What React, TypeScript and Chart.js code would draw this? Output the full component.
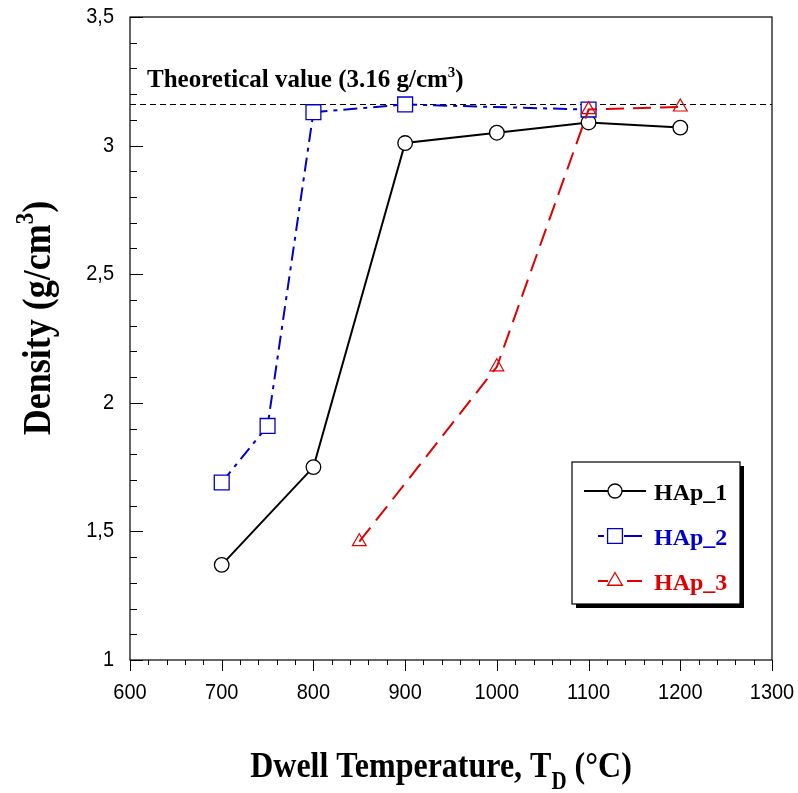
import React, { useEffect, useRef } from "react";
import { Chart, registerables } from "chart.js";
Chart.register(...registerables);

const hap1X = [700, 800, 900, 1000, 1100, 1200];
const hap1Y = [1.37, 1.75, 3.01, 3.05, 3.09, 3.07];
const hap2X = [700, 750, 800, 900, 1100];
const hap2Y = [1.69, 1.91, 3.13, 3.16, 3.14];
const hap3X = [850, 1000, 1100, 1200];
const hap3Y = [1.46, 2.14, 3.14, 3.15];
const theoreticalValue = 3.16;
const xRange = [600, 1300];
const yRange = [1, 3.5];
const xTicks = [600, 700, 800, 900, 1000, 1100, 1200, 1300];
const xTickLabels = ["600", "700", "800", "900", "1000", "1100", "1200", "1300"];
const yTicks = [1, 1.5, 2, 2.5, 3, 3.5];
const yTickLabels = ["1", "1,5", "2", "2,5", "3", "3,5"];
const seriesLabels = ["HAp_1", "HAp_2", "HAp_3"];

const BLUE = "#0000CC";
const RED = "#E00000";
const SERIF = '"Liberation Serif", "Times New Roman", serif';
const SANS = '"Liberation Sans", Arial, sans-serif';

type Seg = { t: string; dy?: number; size?: number };

function drawSegs(ctx: CanvasRenderingContext2D, segs: Seg[], x: number, y: number, base: number, color: string, align: "left" | "center" = "left", sy = 1) {
  let total = 0;
  for (const s of segs) {
    ctx.font = `bold ${s.size ?? base}px ${SERIF}`;
    total += ctx.measureText(s.t).width;
  }
  let cx = align === "center" ? x - total / 2 : x;
  ctx.save();
  ctx.translate(0, y);
  ctx.scale(1, sy);
  ctx.fillStyle = color;
  ctx.textAlign = "left";
  ctx.textBaseline = "alphabetic";
  for (const s of segs) {
    ctx.font = `bold ${s.size ?? base}px ${SERIF}`;
    ctx.fillText(s.t, cx, (s.dy ?? 0) / sy);
    cx += ctx.measureText(s.t).width;
  }
  ctx.restore();
}

function marker(ctx: CanvasRenderingContext2D, style: string, r: number, x: number, y: number, color: string) {
  ctx.save();
  ctx.fillStyle = "#fff";
  ctx.strokeStyle = color;
  ctx.lineWidth = 1.3;
  ctx.setLineDash([]);
  ctx.beginPath();
  if (style === "circle") ctx.arc(x, y, r, 0, Math.PI * 2);
  else if (style === "rect") { const s = r * Math.SQRT1_2; ctx.rect(x - s, y - s, 2 * s, 2 * s); }
  else {
    ctx.moveTo(x, y - r);
    ctx.lineTo(x + r * Math.sin(Math.PI * 2 / 3), y - r * Math.cos(Math.PI * 2 / 3));
    ctx.lineTo(x + r * Math.sin(Math.PI * 4 / 3), y - r * Math.cos(Math.PI * 4 / 3));
    ctx.closePath();
  }
  ctx.fill();
  ctx.stroke();
  ctx.restore();
}

function stretchedText(ctx: CanvasRenderingContext2D, t: string, x: number, y: number, align: CanvasTextAlign, sy: number) {
  ctx.save();
  ctx.translate(x, y);
  ctx.scale(1, sy);
  ctx.textAlign = align;
  ctx.textBaseline = "middle";
  ctx.fillText(t, 0, 0);
  ctx.restore();
}

const decorPlugin = {
  id: "decor",
  afterDatasetsDraw(chart: any) {
    const { ctx, chartArea: a, scales } = chart;
    const xs = scales.x, ys = scales.y;
    ctx.save();
    ctx.strokeStyle = "#000";
    ctx.lineWidth = 1.2;
    ctx.strokeRect(a.left, a.top, a.right - a.left, a.bottom - a.top);
    ctx.lineWidth = 1;
    for (let v = xRange[0]; v <= xRange[1] + 0.001; v += 20) {
      const px = Math.round(xs.getPixelForValue(v)) + 0.5;
      const major = Math.abs(v % 100) < 0.001;
      ctx.beginPath();
      ctx.moveTo(px, a.bottom);
      ctx.lineTo(px, a.bottom + (major ? 11 : 5));
      ctx.stroke();
    }
    for (let i = 0; i <= 25; i++) {
      const v = yRange[0] + i * 0.1;
      const py = Math.round(ys.getPixelForValue(v)) + 0.5;
      const major = i % 5 === 0;
      ctx.beginPath();
      ctx.moveTo(a.left, py);
      ctx.lineTo(a.left + (major ? 13 : 7), py);
      ctx.stroke();
    }
    // tick labels
    ctx.fillStyle = "#000";
    ctx.font = `20px ${SANS}`;
    xTicks.forEach((v, i) => stretchedText(ctx, xTickLabels[i], xs.getPixelForValue(v), a.bottom + 33, "center", 1.1));
    yTicks.forEach((v, i) => stretchedText(ctx, yTickLabels[i], a.left - 16, ys.getPixelForValue(v), "right", 1.1));
    // annotation
    drawSegs(ctx, [
      { t: "Theoretical value (3.16 g/cm" },
      { t: "3", dy: -10, size: 15 },
      { t: ")" },
    ], a.left + 17, 87, 25, "#000");
    // axis titles
    drawSegs(ctx, [
      { t: "Dwell Temperature, T" },
      { t: "D", dy: 12, size: 21 },
      { t: " (°C)" },
    ], 441, 777, 32, "#000", "center", 1.15);
    ctx.save();
    ctx.translate(50, 318);
    ctx.rotate(-Math.PI / 2);
    drawSegs(ctx, [
      { t: "Density (g/cm" },
      { t: "3", dy: -17, size: 23 },
      { t: ")" },
    ], 0, 0, 36, "#000", "center", 1.1);
    ctx.restore();
    // legend
    const lx = 572, ly = 462, lw = 168, lh = 142;
    ctx.fillStyle = "#000";
    ctx.fillRect(lx + 4, ly + 4, lw, lh);
    ctx.fillStyle = "#fff";
    ctx.fillRect(lx, ly, lw, lh);
    ctx.strokeStyle = "#000";
    ctx.lineWidth = 1.2;
    ctx.strokeRect(lx, ly, lw, lh);
    const ds = chart.data.datasets;
    for (let i = 0; i < 3; i++) {
      const d = ds[i];
      const yy = ly + 29 + i * 45;
      ctx.save();
      ctx.strokeStyle = d.borderColor;
      ctx.lineWidth = 2;
      ctx.setLineDash([]);
      ctx.beginPath();
      if (i === 0) { ctx.moveTo(584, yy); ctx.lineTo(646, yy); }
      else if (i === 1) { ctx.moveTo(598, yy); ctx.lineTo(604, yy); ctx.moveTo(624, yy); ctx.lineTo(642, yy); }
      else { ctx.moveTo(598, yy); ctx.lineTo(608, yy); ctx.moveTo(627, yy); ctx.lineTo(642, yy); }
      ctx.stroke();
      ctx.restore();
      marker(ctx, d.pointStyle, i === 0 ? 7 : i === 1 ? 10.5 : 8.5, 615, yy, d.borderColor);
      drawSegs(ctx, [{ t: d.label }], 654, yy + 9, 24, i === 0 ? "#000" : i === 1 ? BLUE : RED);
    }
    ctx.restore();
  },
};

export default function App() {
  const ref = useRef<HTMLCanvasElement>(null);
  useEffect(() => {
    const toPts = (xs: number[], ys: number[]) => xs.map((x, i) => ({ x, y: ys[i] }));
    const chart = new Chart(ref.current!, {
      type: "line",
      data: {
        datasets: [
          {
            label: seriesLabels[0], data: toPts(hap1X, hap1Y), borderColor: "#000", borderWidth: 2,
            pointStyle: "circle", pointRadius: 7.3, pointBorderWidth: 1.3, pointBackgroundColor: "#fff",
            pointBorderColor: "#000", order: 3,
          },
          {
            label: seriesLabels[1], data: toPts(hap2X, hap2Y), borderColor: BLUE, borderWidth: 2,
            borderDash: [14, 6, 4, 6], pointStyle: "rect", pointRadius: 10.5, pointBorderWidth: 1.3,
            pointBackgroundColor: "#fff", pointBorderColor: BLUE, order: 2,
          },
          {
            label: seriesLabels[2], data: toPts(hap3X, hap3Y), borderColor: RED, borderWidth: 2,
            borderDash: [18, 9], pointStyle: "triangle", pointRadius: 8, pointBorderWidth: 1.2,
            pointBackgroundColor: "rgba(255,255,255,0)", pointBorderColor: RED, order: 1,
          },
          {
            label: "theory", data: [{ x: xRange[0], y: theoreticalValue }, { x: xRange[1], y: theoreticalValue }],
            borderColor: "#000", borderWidth: 1.1, borderDash: [6, 4], pointRadius: 0, order: 4,
          },
        ],
      },
      options: {
        animation: false,
        responsive: false,
        maintainAspectRatio: false,
        layout: { padding: { top: 17, right: 26, left: 0, bottom: 0 } },
        plugins: { legend: { display: false }, tooltip: { enabled: false } },
        scales: {
          x: {
            type: "linear", min: xRange[0], max: xRange[1],
            grid: { display: false, drawTicks: false },
            border: { display: false },
            ticks: { display: false, stepSize: 100 },
            afterFit: (s: any) => { s.height = 133; s.paddingLeft = 0; s.paddingRight = 0; },
          },
          y: {
            min: yRange[0], max: yRange[1],
            grid: { display: false, drawTicks: false },
            border: { display: false },
            ticks: { display: false, stepSize: 0.5 },
            afterFit: (s: any) => { s.width = 130; s.paddingTop = 0; s.paddingBottom = 0; },
          },
        },
      },
      plugins: [decorPlugin],
    } as any);
    return () => chart.destroy();
  }, []);
  return (
    <div style={{ position: "absolute", left: 0, top: 0, width: 798, height: 793, background: "#fff" }}>
      <canvas ref={ref} width={798} height={793} style={{ width: 798, height: 793 }} />
    </div>
  );
}
